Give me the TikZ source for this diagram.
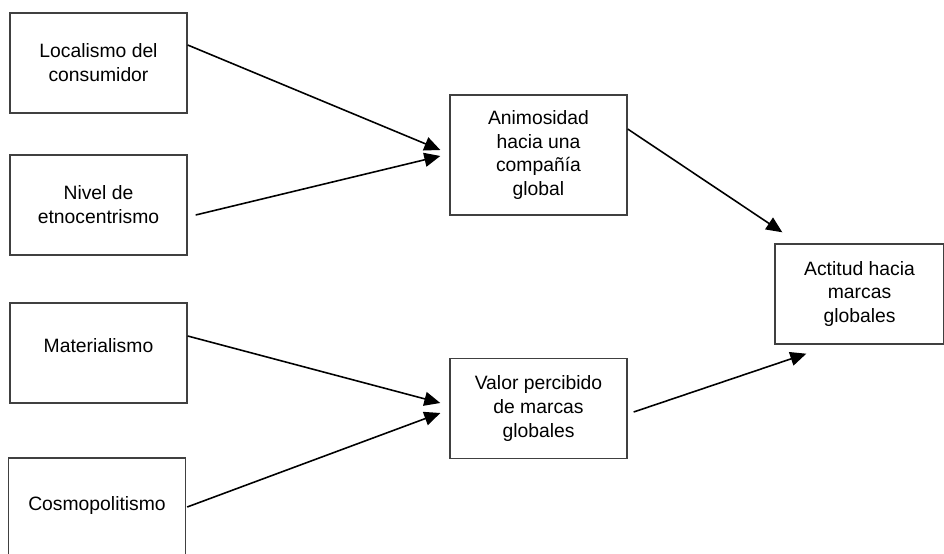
\documentclass[tikz,border=0pt]{standalone}
\usepackage{fontspec}
\setmainfont{Liberation Sans}
\usetikzlibrary{arrows.meta}

\tikzset{
  caja/.style={draw=black!75,line width=0.8pt,align=center,inner sep=0pt,
    minimum width=3.54cm,minimum height=2cm,
    font=\fontsize{11}{13.6}\selectfont},
  flecha/.style={line width=0.9pt,-{Triangle[length=0.32cm,width=0.28cm]}}
}

\begin{document}
\begin{tikzpicture}[x=0.02cm,y=-0.02cm]

% marco (944 x 554 px)
\useasboundingbox (0,0) rectangle (944,554);

% variables de la izquierda
\node[caja] (loc) at (98.5,63) {Localismo del\\consumidor};
\node[caja] (etno) at (98.5,205) {Nivel de\\etnocentrismo};
\node[caja,text depth=0.3cm] (mat) at (98.5,353) {Materialismo};
\node[caja,text depth=0.2cm] (cosmo) at (97,508) {Cosmopolitismo};

% variables intermedias
\node[caja,minimum height=2.4cm] (anim) at (538.5,155) {Animosidad\\hacia una\\compañía\\global};
\node[caja] (valor) at (538.5,408.5) {Valor percibido\\de marcas\\globales};

% variable final
\node[caja,minimum width=3.38cm] (actitud) at (859.5,294) {Actitud hacia\\marcas\\globales};

% flechas
\draw[flecha] ([shift={(0,-18)}]loc.east) -- ([shift={(-9,-5)}]anim.west);
\draw[flecha] ([shift={(8,10)}]etno.east) -- ([shift={(-9,1)}]anim.west);
\draw[flecha] ([shift={(0,-17)}]mat.east) -- ([shift={(-9,-5.5)}]valor.west);
\draw[flecha] ([shift={(1,-1)}]cosmo.east) -- ([shift={(-9,4.5)}]valor.west);
\draw[flecha] ([shift={(0,-26)}]anim.east) -- ([shift={(8,-11)}]actitud.north west);
\draw[flecha] ([shift={(6,3.5)}]valor.east) -- ([shift={(32,9)}]actitud.south west);

\end{tikzpicture}
\end{document}
